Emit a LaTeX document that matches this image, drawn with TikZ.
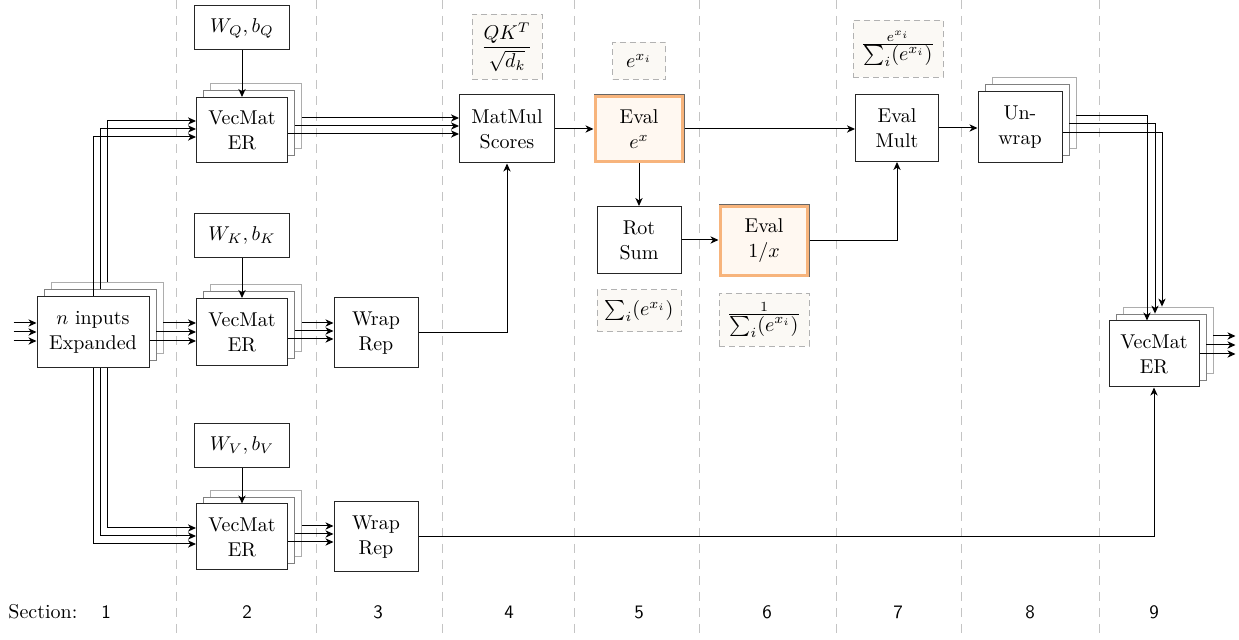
\documentclass[tikz,border=0pt]{standalone}
\usetikzlibrary{arrows.meta,calc,backgrounds}

\definecolor{evalband}{HTML}{F7B47C}
\definecolor{evalfill}{HTML}{FFF8F1}
\definecolor{notefill}{HTML}{FBF9F5}
\definecolor{divider}{HTML}{C4C4C4}

% a block drawn with two offset copies behind it
\newcommand\stacked[4]{%
  \node[blk,sz=#3] (#1) at #2 {#4};
  \begin{scope}[on background layer]
    \node[layerB,sz=#3] (#1-2) at ($(#1)+(14,-14)$) {};
    \node[layerA,sz=#3] (#1-1) at ($(#1)+(7,-7)$) {};
  \end{scope}}

\begin{document}
\begin{tikzpicture}[x=0.5pt,y=-0.5pt,
  font=\fontsize{10}{12.5}\selectfont,
  >={Stealth[length=4pt,width=3.6pt,inset=1.2pt]},
  line width=0.5pt,
  sz/.style 2 args={minimum width=#1*0.5pt,minimum height=#2*0.5pt},
  blk/.style={draw=black!85,fill=white,align=center,inner sep=0pt},
  layerA/.style={draw=black!50,fill=white,inner sep=0pt},
  layerB/.style={draw=black!32,fill=white,inner sep=0pt},
  evalbox/.style={draw=black!60,fill=evalfill,align=center,inner sep=0pt},
  band/.style={draw=evalband,line width=1.5pt},
  note/.style={draw=black!30,dash pattern=on 3pt off 2pt,fill=notefill,inner sep=0pt},
  divline/.style={draw=divider,line width=0.5pt,dash pattern=on 4.5pt off 3.5pt},
  secnum/.style={font=\fontsize{9.5}{12}\sffamily}]

\useasboundingbox (0,0) rectangle (1239,640);

% section dividers
\begin{scope}[on background layer]
  \foreach \x in {176,316,442,574,699,836,961,1099}
    \draw[divline] (\x,0) -- (\x,640);
\end{scope}

% section row
\node[anchor=west,inner sep=0pt] (sec) at (8,612) {Section:};
\foreach \n/\x in {1/106,2/247,3/378,4/509,5/639,6/767,7/898,8/1030,9/1154}
  \node[secnum] (sec\n) at (\x,612) {\n};

% blocks
\stacked{in}{(93,332)}{{112}{71}}{$n$ inputs\\Expanded}
\node[blk,sz={95}{44}] (wq) at (242,28) {$W_Q, b_Q$};
\stacked{vq}{(242,130)}{{91}{65}}{VecMat\\ER}
\node[blk,sz={95}{44}] (wk) at (242,236) {$W_K, b_K$};
\stacked{vk}{(242,332)}{{91}{67}}{VecMat\\ER}
\node[blk,sz={95}{44}] (wv) at (242,446) {$W_V, b_V$};
\stacked{vv}{(242,537)}{{91}{66}}{VecMat\\ER}
\node[blk,sz={84}{70}] (wrk) at (376,333) {Wrap\\Rep};
\node[blk,sz={84}{70}] (wrv) at (376,537) {Wrap\\Rep};
\node[blk,sz={95}{68}] (mm) at (507,129) {MatMul\\Scores};
\node[evalbox,sz={90}{68}] (ex) at (639,129) {Eval\\$e^x$};
\node[blk,sz={84}{67}] (rs) at (639,240) {Rot\\Sum};
\node[evalbox,sz={90}{72}] (einv) at (764,241) {Eval\\$1/x$};
\node[blk,sz={83}{67}] (em) at (897,128) {Eval\\Mult};
\stacked{uw}{(1020,127)}{{84}{71}}{Un-\\wrap}
\stacked{vf}{(1154,354)}{{90}{66}}{VecMat\\ER}

% orange band inside the evaluation blocks
\foreach \b in {ex,einv}
  \draw[band] ([shift={(1.2pt,-1.2pt)}]\b.north west) rectangle ([shift={(-1.2pt,1.2pt)}]\b.south east);

% formula notes
\node[note,sz={70}{65}] (n1) at (507,47) {$\displaystyle\frac{QK^T}{\sqrt{d_k}}$};
\node[note,sz={53}{37}] (n2) at (639,61) {$e^{x_i}$};
\node[note,sz={84}{42}] (n3) at (639,311) {$\sum_i(e^{x_i})$};
\node[note,sz={90}{53}] (n4) at (764,320) {$\frac{1}{\textstyle\sum_i(e^{x_i})}$};
\node[note,sz={90}{57}] (n5) at (898,49) {$\frac{e^{x_i}}{\textstyle\sum_i(e^{x_i})}$};

% external inputs
\foreach \d [count=\k] in {-9,0,9} {
  \coordinate (src\k) at ($(in.west)+(-23,\d)$);
  \draw[->] (src\k) -- (src\k -| in.west);
}

% inputs -> query branch
\draw[->] (in.north) |- ($(vq.west)+(0,7)$);
\draw[->] (in-1.north) |- ($(vq.west)+(0,-1)$);
\draw[->] (in-2.north) |- ($(vq.west)+(0,-9)$);

% inputs -> key branch
\coordinate (vkA) at ($(vk.west)+(0,-9)$);
\coordinate (vkB) at ($(vk.west)+(0,0)$);
\coordinate (vkC) at ($(vk.west)+(0,9)$);
\draw[->] (vkA -| in-2.east) -- (vkA);
\draw[->] (vkB -| in-1.east) -- (vkB);
\draw[->] (vkC -| in.east) -- (vkC);

% inputs -> value branch
\coordinate (vvA) at ($(vv.west)+(0,-9)$);
\coordinate (vvB) at ($(vv.west)+(0,-1)$);
\coordinate (vvC) at ($(vv.west)+(0,7)$);
\draw[->] (in.south) |- (vvC);
\draw[->] (in-1 |- in.south) |- (vvB);
\draw[->] (in-2 |- in.south) |- (vvA);

% weights
\draw[->] (wq) -- (vq);
\draw[->] (wk) -- (vk);
\draw[->] (wv) -- (vv);

% query -> scores
\coordinate (mmA) at ($(mm.west)+(0,-11)$);
\coordinate (mmB) at ($(mm.west)+(0,-3)$);
\coordinate (mmC) at ($(mm.west)+(0,5)$);
\draw[->] (mmA -| vq-2.east) -- (mmA);
\draw[->] (mmB -| vq-1.east) -- (mmB);
\draw[->] (mmC -| vq.east) -- (mmC);

% key -> wrap
\coordinate (wkA) at ($(wrk.west)+(0,-10)$);
\coordinate (wkB) at ($(wrk.west)+(0,-2)$);
\coordinate (wkC) at ($(wrk.west)+(0,6)$);
\draw[->] (wkA -| vk-2.east) -- (wkA);
\draw[->] (wkB -| vk-1.east) -- (wkB);
\draw[->] (wkC -| vk.east) -- (wkC);

% value -> wrap
\coordinate (wvA) at ($(wrv.west)+(0,-11)$);
\coordinate (wvB) at ($(wrv.west)+(0,-3)$);
\coordinate (wvC) at ($(wrv.west)+(0,5)$);
\draw[->] (wvA -| vv-2.east) -- (wvA);
\draw[->] (wvB -| vv-1.east) -- (wvB);
\draw[->] (wvC -| vv.east) -- (wvC);

\draw[->] (wrk.east) -| (mm.south);
\draw[->] (wrv.east) -| (vf.south);

% softmax chain
\draw[->] (mm) -- (ex);
\draw[->] (ex) -- (rs);
\draw[->] (ex.east) -- (ex.east -| em.west);
\draw[->] (rs.east) -- (rs.east -| einv.west);
\draw[->] (einv.east) -| (em.south);
\draw[->] (em.east) -- (em.east -| uw.west);

% unwrap -> final product
\coordinate (uwA) at ($(uw.east)+(0,-11)$);
\coordinate (uwB) at ($(uw.east)+(0,-3)$);
\coordinate (uwC) at ($(uw.east)+(0,6)$);
\draw[->] (uwA -| uw-2.east) -| ($(vf.north)+(-7,0)$);
\draw[->] (uwB -| uw-1.east) -| ($(vf-1.north)+(-6,0)$);
\draw[->] (uwC -| uw.east) -| ($(vf-2.north)+(-6,0)$);

% outputs
\coordinate (outA) at ($(vf.east)+(36,-18)$);
\coordinate (outB) at ($(vf.east)+(36,-9)$);
\coordinate (outC) at ($(vf.east)+(36,0)$);
\draw[->] (outA -| vf-2.east) -- (outA);
\draw[->] (outB -| vf-1.east) -- (outB);
\draw[->] (outC -| vf.east) -- (outC);

\end{tikzpicture}
\end{document}
